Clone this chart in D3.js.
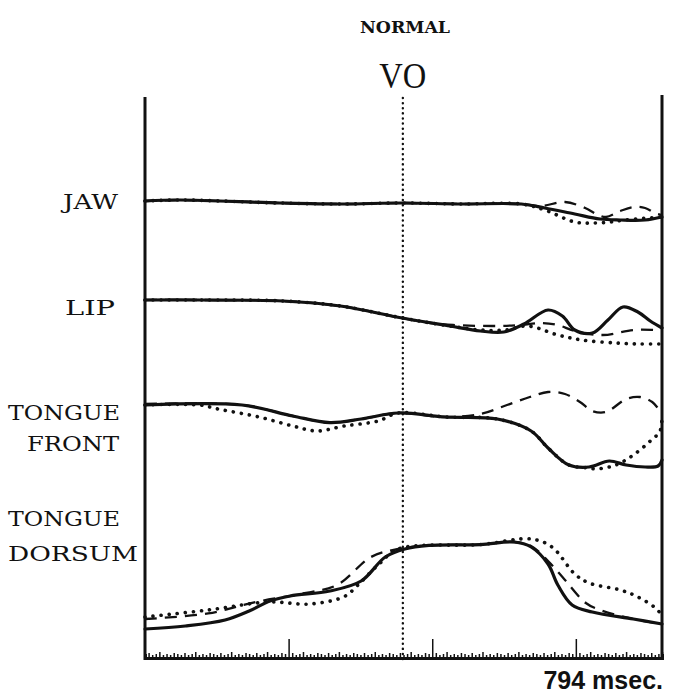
<!DOCTYPE html>
<html>
<head>
<meta charset="utf-8">
<script src="https://cdn.jsdelivr.net/npm/d3@7"></script>
<style>
  html, body { margin: 0; padding: 0; background: #fff; }
  svg { display: block; }
</style>
</head>
<body>
<svg id="chart" width="675" height="696"></svg>
<script>
// Articulator movement traces for one normal utterance, 0–794 ms.
// Each trace is [time (ms), displacement (arbitrary units, up = positive)].

const totalMs = 794;
const voiceOnsetMs = 396;

const channelNames = ["JAW", "LIP", "TONGUE FRONT", "TONGUE DORSUM"];

// JAW
const jawSolid = [[0,0],[54,0.25],[207,-0.5],[300,-0.75],[396,-0.5],[484,-0.75],[578,-0.75],[614,-1.75],[660,-3.25],[699,-4.5],[730,-4.75],[768,-4.75],[794,-4]];
const jawDashed = [[0,0],[54,0.25],[207,-0.5],[300,-0.75],[396,-0.5],[484,-0.75],[578,-0.75],[608,-1.25],[645,-0.25],[676,-1.75],[693,-3.25],[708,-4],[730,-2.5],[750,-1.5],[768,-1.75],[783,-3],[794,-3.5]];
const jawDotted = [[0,0],[54,0.25],[207,-0.5],[300,-0.75],[396,-0.5],[484,-0.75],[578,-0.75],[614,-2.25],[660,-5.25],[691,-5.5],[714,-5.25],[737,-4.75],[794,-4]];

// LIP
const lipSolid = [[0,0],[84,0],[212,-0.25],[300,-1.5],[395,-4.5],[468,-6.5],[515,-7.75],[551,-8],[582,-6],[619,-2.5],[641,-4],[660,-7.5],[687,-8.25],[711,-5],[734,-1.75],[757,-3],[776,-5.25],[794,-7]];
const lipDashed = [[0,0],[84,0],[212,-0.25],[300,-1.5],[395,-4.5],[438,-5.75],[473,-6.25],[541,-6.5],[576,-6.25],[608,-5.75],[634,-6.25],[660,-7.75],[703,-8.75],[750,-7.5],[786,-7.5],[794,-7.5]];
const lipDotted = [[0,0],[84,0],[212,-0.25],[300,-1.5],[395,-4.5],[468,-6.5],[515,-7.5],[553,-7.5],[588,-6.5],[634,-8.75],[671,-10],[723,-10.75],[760,-11],[794,-11]];

// TONGUE FRONT
const tfSolid = [[0,0],[149,0],[227,-2.75],[284,-4.4],[332,-3.5],[389,-2],[462,-3],[541,-3.5],[593,-6.5],[619,-10.75],[651,-15],[682,-15.5],[713,-14],[739,-15],[768,-15.5],[788,-15.25],[794,-13.75]];
const tfDashed = [[0,0.25],[149,0],[227,-2.75],[284,-4.4],[332,-3.5],[389,-2],[462,-3],[515,-2.25],[556,0],[591,2],[619,3.25],[645,2.75],[668,0.75],[687,-1.5],[708,-1.75],[739,1.5],[760,2],[779,0.75],[794,-2.25]];
const tfDotted = [[0,0],[84,0],[112,-1],[175,-3],[227,-5.25],[264,-6.5],[306,-5.25],[358,-4],[389,-2],[462,-3],[541,-3.5],[593,-6.5],[619,-10.75],[651,-15],[682,-15.75],[693,-16],[723,-15],[750,-12.5],[776,-9],[791,-6.5],[794,-2.25]];

// TONGUE DORSUM
const tdSolid = [[0,0],[62,0.75],[123,2.25],[160,4.5],[192,7],[223,8.25],[284,9.5],[332,12],[369,18],[399,20],[436,20.9],[515,21.1],[567,21.75],[593,20.5],[619,16.25],[634,11],[656,6],[687,4.25],[750,2.5],[794,1.25]];
const tdDashed = [[0,2.5],[97,3.9],[170,6.75],[238,8.75],[295,11],[347,18],[389,20],[436,20.9],[515,21.1],[567,21.75],[593,20.75],[619,17],[645,12.25],[677,6.5],[699,4.75],[750,2.5],[794,1.25]];
const tdDotted = [[0,3],[97,4.75],[190,6.75],[253,6.25],[306,8.1],[327,11],[358,16],[389,20],[515,21.1],[593,22.5],[625,20.5],[660,13.75],[682,11.5],[730,9.75],[756,8.1],[782,5.5],[794,3.5]];

// Time axis: fine tick every 1/144 of the record, heavy tick every 40.
const tickCount = 144;
const majorEvery = 40;
// repeating pattern of fine-tick heights (px)
const tickPattern = [3, 5, 3, 4, 6, 3, 4, 3, 5, 4];

const traces = [
  [jawSolid, jawDashed, jawDotted],
  [lipSolid, lipDashed, lipDotted],
  [tfSolid, tfDashed, tfDotted],
  [tdSolid, tdDashed, tdDotted]
];

// ---- layout ----
const svg = d3.select("#chart");
const frame = { left: 145, right: 662, top: 97, bottom: 658 };
const channelRest = [201, 300, 405, 629];   // y of each channel's zero level
const pxPerUnit = 4;

const x = d3.scaleLinear().domain([0, totalMs]).range([frame.left, frame.right]);
const yScales = channelRest.map(y0 => d3.scaleLinear().domain([0, 1]).range([y0, y0 - pxPerUnit]));

const ink = "#111";

// frame: two verticals and the time baseline
svg.append("line").attr("x1", frame.left).attr("x2", frame.left)
  .attr("y1", frame.top).attr("y2", frame.bottom + 2)
  .attr("stroke", ink).attr("stroke-width", 3);
svg.append("line").attr("x1", frame.right).attr("x2", frame.right)
  .attr("y1", frame.top - 2).attr("y2", frame.bottom + 2)
  .attr("stroke", ink).attr("stroke-width", 3);

// time axis with scan-style ticks
const tickVals = d3.range(tickCount + 1).map(i => i * totalMs / tickCount);
const axis = d3.axisTop(x).tickValues(tickVals).tickFormat("").tickSizeOuter(0).tickSize(4);
const gAxis = svg.append("g").attr("transform", `translate(0,${frame.bottom})`).call(axis);
gAxis.select(".domain").attr("stroke", ink).attr("stroke-width", 3);
gAxis.selectAll(".tick line")
  .attr("stroke", ink).attr("stroke-width", 1.5)
  .attr("y2", (d, i) => (i % majorEvery === 0 && i > 0 && i < tickCount) ? -19 : -tickPattern[i % tickPattern.length]);

// voice onset marker
svg.append("line")
  .attr("x1", x(voiceOnsetMs)).attr("x2", x(voiceOnsetMs))
  .attr("y1", frame.top + 1).attr("y2", frame.bottom + 2)
  .attr("stroke", ink).attr("stroke-width", 2.4)
  .attr("stroke-dasharray", "0.1,5").attr("stroke-linecap", "round");

// traces
const styles = [
  { width: 3.2, dash: null, cap: "round" },
  { width: 2.3, dash: "12,8", cap: "butt" },
  { width: 3.6, dash: "0.1,8", cap: "round" }
];

traces.forEach((set, c) => {
  const line = d3.line()
    .x(d => x(d[0]))
    .y(d => yScales[c](d[1]))
    .curve(d3.curveCatmullRom.alpha(0.5));
  // dotted first, then dashed, solid on top
  [2, 1, 0].forEach(k => {
    const s = styles[k];
    svg.append("path")
      .datum(set[k])
      .attr("d", line)
      .attr("fill", "none")
      .attr("stroke", ink)
      .attr("stroke-width", s.width)
      .attr("stroke-linecap", s.cap)
      .attr("stroke-linejoin", "round")
      .attr("stroke-dasharray", s.dash);
  });
});

// channel labels
const labelFont = "'DejaVu Serif', serif";
const labelLines = [
  [{ t: "JAW", x: 63, y: 209, w: 55 }],
  [{ t: "LIP", x: 65, y: 315, w: 50 }],
  [{ t: "TONGUE", x: 8, y: 420, w: 112 }, { t: "FRONT", x: 27, y: 451, w: 92 }],
  [{ t: "TONGUE", x: 8, y: 526, w: 112 }, { t: "DORSUM", x: 8, y: 561, w: 130 }]
];
channelNames.forEach((name, c) => {
  labelLines[c].forEach(l => {
    svg.append("text")
      .attr("x", l.x).attr("y", l.y)
      .attr("font-family", labelFont).attr("font-size", 21)
      .attr("textLength", l.w).attr("lengthAdjust", "spacingAndGlyphs")
      .attr("fill", ink)
      .text(l.t);
  });
});

// titles
svg.append("text")
  .attr("x", 405).attr("y", 33).attr("text-anchor", "middle")
  .attr("font-family", "'DejaVu Serif', serif").attr("font-weight", "bold")
  .attr("font-size", 16).attr("textLength", 90).attr("lengthAdjust", "spacingAndGlyphs")
  .attr("fill", ink).text("NORMAL");

svg.append("text")
  .attr("x", x(voiceOnsetMs)).attr("y", 88).attr("text-anchor", "middle")
  .attr("font-family", "'Liberation Serif', serif")
  .attr("font-size", 35).attr("textLength", 47).attr("lengthAdjust", "spacingAndGlyphs")
  .attr("fill", ink).text("VO");

svg.append("text")
  .attr("x", 663).attr("y", 689).attr("text-anchor", "end")
  .attr("font-family", "'Liberation Sans', Arial, sans-serif").attr("font-weight", "bold")
  .attr("font-size", 25)
  .attr("fill", ink).text(`${totalMs} msec.`);
</script>
</body>
</html>
